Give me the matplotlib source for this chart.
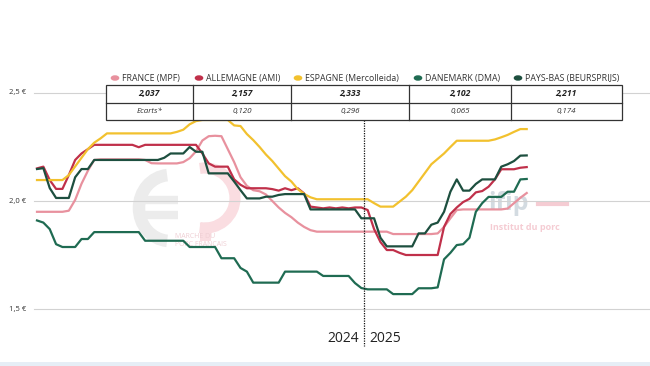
import matplotlib.pyplot as plt
from matplotlib.patches import Rectangle, Arc, Circle
import numpy as np

plt.rcParams['font.family'] = ['Open Sans', 'DejaVu Sans']

# ======= Data (prix du porc, €/kg, semaines 2024 -> 2025) =======
n_2024 = 52
weeks = np.arange(78)

france = [1.95, 1.95, 1.95, 1.95, 1.95, 1.955, 2.005, 2.08, 2.14, 2.19,
          2.193, 2.193, 2.193, 2.193, 2.193, 2.193, 2.193, 2.19, 2.175, 2.174,
          2.174, 2.174, 2.174, 2.18, 2.198, 2.23, 2.28, 2.30, 2.302, 2.30,
          2.24, 2.18, 2.11, 2.07, 2.05, 2.045, 2.03, 2.00, 1.97, 1.945,
          1.925, 1.90, 1.88, 1.865, 1.858, 1.858, 1.858, 1.858, 1.858, 1.858,
          1.858, 1.858, 1.858, 1.858, 1.858, 1.858, 1.847, 1.847, 1.847, 1.847,
          1.847, 1.847, 1.847, 1.85, 1.88, 1.92, 1.958, 1.961, 1.961, 1.961,
          1.961, 1.961, 1.961, 1.961, 1.965, 1.99, 2.015, 2.037]

allemagne = [2.151, 2.159, 2.097, 2.056, 2.056, 2.12, 2.19, 2.22, 2.24, 2.26,
             2.26, 2.26, 2.26, 2.26, 2.26, 2.26, 2.249, 2.26, 2.26, 2.26,
             2.26, 2.26, 2.26, 2.26, 2.26, 2.26, 2.22, 2.174, 2.159, 2.159,
             2.159, 2.10, 2.075, 2.059, 2.059, 2.059, 2.059, 2.055, 2.048, 2.059,
             2.05, 2.059, 2.035, 1.974, 1.97, 1.966, 1.97, 1.966, 1.97, 1.966,
             1.97, 1.97, 1.958, 1.87, 1.81, 1.773, 1.773, 1.76, 1.75, 1.75,
             1.75, 1.75, 1.75, 1.75, 1.88, 1.94, 1.97, 1.995, 2.01, 2.04,
             2.046, 2.066, 2.10, 2.147, 2.147, 2.147, 2.154, 2.157]

espagne = [2.097, 2.097, 2.097, 2.097, 2.097, 2.12, 2.16, 2.20, 2.24, 2.27,
           2.29, 2.313, 2.313, 2.313, 2.313, 2.313, 2.313, 2.313, 2.313, 2.313,
           2.313, 2.313, 2.32, 2.33, 2.355, 2.37, 2.375, 2.375, 2.375, 2.375,
           2.375, 2.35, 2.347, 2.31, 2.282, 2.25, 2.215, 2.185, 2.15, 2.115,
           2.09, 2.055, 2.033, 2.017, 2.008, 2.008, 2.008, 2.008, 2.008, 2.008,
           2.008, 2.008, 2.008, 1.99, 1.974, 1.974, 1.974, 1.997, 2.02, 2.05,
           2.09, 2.13, 2.17, 2.195, 2.22, 2.25, 2.279, 2.279, 2.279, 2.279,
           2.279, 2.279, 2.285, 2.295, 2.306, 2.32, 2.333, 2.333]

danemark = [1.91, 1.90, 1.87, 1.80, 1.787, 1.787, 1.787, 1.824, 1.824, 1.856,
            1.856, 1.856, 1.856, 1.856, 1.856, 1.856, 1.856, 1.816, 1.816, 1.816,
            1.816, 1.816, 1.816, 1.816, 1.787, 1.787, 1.787, 1.787, 1.787, 1.735,
            1.735, 1.735, 1.69, 1.673, 1.622, 1.622, 1.622, 1.622, 1.622, 1.673,
            1.673, 1.673, 1.673, 1.673, 1.673, 1.653, 1.653, 1.653, 1.653, 1.653,
            1.62, 1.597, 1.591, 1.591, 1.591, 1.591, 1.569, 1.569, 1.569, 1.569,
            1.596, 1.596, 1.596, 1.60, 1.73, 1.76, 1.796, 1.80, 1.83, 1.95,
            1.99, 2.019, 2.019, 2.019, 2.043, 2.043, 2.10, 2.102]

pays_bas = [2.148, 2.152, 2.06, 2.014, 2.014, 2.014, 2.11, 2.148, 2.148, 2.19,
            2.19, 2.19, 2.19, 2.19, 2.19, 2.19, 2.19, 2.19, 2.19, 2.19,
            2.20, 2.22, 2.22, 2.22, 2.25, 2.228, 2.228, 2.128, 2.128, 2.128,
            2.128, 2.09, 2.05, 2.012, 2.012, 2.012, 2.02, 2.02, 2.028, 2.032,
            2.032, 2.032, 2.032, 1.961, 1.961, 1.961, 1.961, 1.961, 1.961, 1.961,
            1.961, 1.92, 1.92, 1.92, 1.83, 1.79, 1.79, 1.79, 1.79, 1.79,
            1.85, 1.85, 1.89, 1.90, 1.95, 2.043, 2.10, 2.048, 2.048, 2.079,
            2.10, 2.10, 2.10, 2.159, 2.17, 2.185, 2.21, 2.211]

labels = ["FRANCE (MPF)", "ALLEMAGNE (AMI)", "ESPAGNE (Mercolleida)",
          "DANEMARK (DMA)", "PAYS-BAS (BEURSPRIJS)"]
colors = ["#e8919e", "#c0304a", "#f2c12e", "#1f6b52", "#1d4f3f"]
last_prices = ["2,037", "2,157", "2,333", "2,102", "2,211"]
ecarts = ["Ecarts*", "0,120", "0,296", "0,065", "0,174"]
y_ticks = [1.5, 2.0, 2.5]
y_tick_labels = ["1,5 €", "2,0 €", "2,5 €"]

# ======= Figure =======
W, H = 650, 366
fig = plt.figure(figsize=(W / 100, H / 100), dpi=100)

def fx(px):
    return px / W

def fy(py):
    return 1 - py / H

ax = fig.add_axes([0, 0, 1, 1])
step = 6.36
ax.set_xlim(-37 / step, 613 / step)
ax.set_ylim(2.0 - 165 / 216, 2.0 + 201 / 216)
ax.axis("off")

# grid + y labels
for v, lab in zip(y_ticks, y_tick_labels):
    ax.axhline(v, xmin=34 / W, xmax=1, color="#d2d2d2", lw=0.8, zorder=1)
    ax.text(-28 / step, v, lab, fontsize=5.5, color="#333333",
            ha="left", va="center")

# watermarks
wm = fig.add_axes([0, 0, 1, 1])
wm.set_xlim(0, W)
wm.set_ylim(H, 0)
wm.axis("off")
grey_wm = "#ececec"
pink_wm = "#fadde1"
wm.add_patch(Arc((170, 208), 62, 66, theta1=95, theta2=265, lw=9,
                 color=grey_wm))
wm.plot([143, 178], [200, 200], color=grey_wm, lw=6, solid_capstyle="butt")
wm.plot([143, 178], [215, 215], color=grey_wm, lw=6, solid_capstyle="butt")
wm.add_patch(Arc((205, 198), 60, 60, theta1=-100, theta2=100, lw=8,
                 color=pink_wm))
wm.plot([205, 205], [228, 235], color=pink_wm, lw=8)
wm.text(175, 237, "MARCHE DU", fontsize=5, color="#efcfd4", va="center")
wm.text(175, 245, "PORC FRANÇAIS", fontsize=5, color="#efcfd4", va="center")
wm.text(488, 203, "ifip", fontsize=18, fontweight="bold", color="#d3dbe1",
        va="center")
wm.plot([538, 567], [204, 204], color="#f5ccd3", lw=3)
wm.text(490, 227, "Institut du porc", fontsize=6.5, fontweight="bold",
        color="#f5ccd3", va="center")
wm.set_zorder(0)
ax.set_zorder(1)
ax.patch.set_alpha(0)

# series
for series, col in zip([france, allemagne, espagne, danemark, pays_bas], colors):
    ax.plot(weeks, series, color=col, lw=1.6, zorder=3)

# year separator
sep = n_2024 - 0.6
ax.plot([sep, sep], [2.375, 1.33], color="#111111", lw=0.9,
        linestyle=(0, (1, 1)), zorder=4)
ax.text(sep - 0.8, 1.362, "2024", fontsize=10, ha="right", va="center",
        color="#222222")
ax.text(sep + 0.8, 1.362, "2025", fontsize=10, ha="left", va="center",
        color="#222222")

# legend row
dots_x = [115, 199, 298, 418, 518]
for dx, lab, col in zip(dots_x, labels, colors):
    fig.patches.append(Circle((fx(dx), fy(78)), 3.6 / W, color=col,
                              transform=fig.transFigure, figure=fig))
    fig.text(fx(dx + 7), fy(78), lab, fontsize=6.3, color="#333333",
             va="center", ha="left")

# table
cols = [105.7, 193, 291, 409, 510.7, 622]
rows = [85, 102.7, 120]
fig.patches.append(Rectangle((fx(cols[0]), fy(rows[2])),
                             (cols[-1] - cols[0]) / W, (rows[2] - rows[0]) / H,
                             facecolor="white", edgecolor="#333333", lw=0.9,
                             transform=fig.transFigure, figure=fig, zorder=5))
for c in cols[1:-1]:
    fig.add_artist(plt.Line2D([fx(c), fx(c)], [fy(rows[0]), fy(rows[2])],
                              color="#333333", lw=0.9, zorder=6))
fig.add_artist(plt.Line2D([fx(cols[0]), fx(cols[-1])], [fy(rows[1]), fy(rows[1])],
                          color="#333333", lw=0.9, zorder=6))
for k in range(5):
    cx = (cols[k] + cols[k + 1]) / 2
    fig.text(fx(cx), fy((rows[0] + rows[1]) / 2), last_prices[k], fontsize=6.2,
             fontweight="bold", style="italic", ha="center", va="center",
             color="#222222", zorder=7)
    fig.text(fx(cx), fy((rows[1] + rows[2]) / 2), ecarts[k], fontsize=5.8,
             style="italic", ha="center", va="center", color="#333333", zorder=7)

# bottom band
fig.patches.append(Rectangle((0, 0), 1, 4.5 / H, facecolor="#e6eef6",
                             edgecolor="none", transform=fig.transFigure,
                             figure=fig))

fig.savefig("out.png", dpi=100)
